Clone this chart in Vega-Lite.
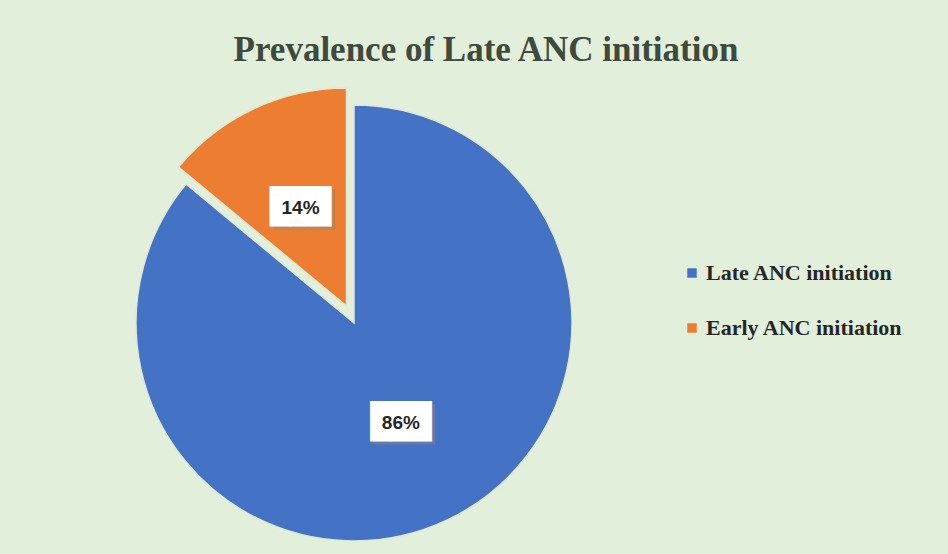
{
  "$schema": "https://vega.github.io/schema/vega-lite/v6.json",
  "autosize": "none",
  "width": 436,
  "height": 436,
  "padding": {"left": 136, "top": 105, "right": 376, "bottom": 13},
  "background": "#e2efda",
  "config": {"view": {"stroke": null}},
  "title": {
    "text": "Prevalence of Late ANC initiation",
    "font": "Liberation Serif",
    "fontSize": 35,
    "fontWeight": "bold",
    "color": "#3d4a3d",
    "anchor": "middle",
    "dx": 132,
    "offset": 17
  },
  "data": {
    "values": [
      {"category": "Late ANC initiation", "value": 86, "label": "86%"},
      {"category": "Early ANC initiation", "value": 14, "label": "14%"}
    ]
  },
  "encoding": {
    "theta": {"field": "value", "type": "quantitative", "stack": true},
    "order": {"field": "value", "type": "quantitative", "sort": "descending"}
  },
  "layer": [
    {
      "mark": {"type": "arc", "stroke": "#dfe9d6", "strokeWidth": 1.5},
      "encoding": {
        "color": {
          "field": "category",
          "type": "nominal",
          "scale": {"domain": ["Late ANC initiation", "Early ANC initiation"], "range": ["#4472c4", "#ed7d31"]},
          "legend": {
            "title": null,
            "orient": "none",
            "legendX": 545,
            "legendY": 157,
            "symbolType": "square",
            "symbolSize": 90,
            "symbolStrokeWidth": 0,
            "labelFont": "Liberation Serif",
            "labelFontWeight": "bold",
            "labelFontSize": 22,
            "labelColor": "#262626",
            "labelOffset": 3,
            "labelLimit": 0,
            "rowPadding": 33
          }
        },
        "opacity": {"condition": {"test": "datum.category === 'Late ANC initiation'", "value": 1}, "value": 0}
      }
    },
    {
      "mark": {"type": "arc", "stroke": "#e8e6cf", "strokeWidth": 1.5, "xOffset": -7.5, "yOffset": -17},
      "encoding": {
        "color": {"field": "category", "type": "nominal"},
        "opacity": {"condition": {"test": "datum.category === 'Early ANC initiation'", "value": 1}, "value": 0}
      }
    },
    {
      "mark": {"type": "text", "font": "DejaVu Sans Mono", "fontSize": 34, "color": "#8a8a8a", "radius": 110, "dx": 3, "dy": 3, "baseline": "middle"},
      "encoding": {
        "text": {"value": "███"},
        "opacity": {"condition": {"test": "datum.category === 'Late ANC initiation'", "value": 0.45}, "value": 0}
      }
    },
    {
      "mark": {"type": "text", "font": "DejaVu Sans Mono", "fontSize": 34, "color": "#ffffff", "radius": 110, "baseline": "middle"},
      "encoding": {
        "text": {"value": "███"},
        "opacity": {"condition": {"test": "datum.category === 'Late ANC initiation'", "value": 1}, "value": 0}
      }
    },
    {
      "mark": {"type": "text", "font": "Liberation Sans", "fontWeight": "bold", "fontSize": 19, "color": "#262626", "radius": 110, "baseline": "middle"},
      "encoding": {
        "text": {"field": "label", "type": "nominal"},
        "opacity": {"condition": {"test": "datum.category === 'Late ANC initiation'", "value": 1}, "value": 0}
      }
    },
    {
      "mark": {"type": "text", "font": "DejaVu Sans Mono", "fontSize": 34, "color": "#8a8a8a", "radius": 108, "dx": 3, "dy": 3, "baseline": "middle", "xOffset": -7.5, "yOffset": -17},
      "encoding": {
        "text": {"value": "███"},
        "opacity": {"condition": {"test": "datum.category === 'Early ANC initiation'", "value": 0.45}, "value": 0}
      }
    },
    {
      "mark": {"type": "text", "font": "DejaVu Sans Mono", "fontSize": 34, "color": "#ffffff", "radius": 108, "baseline": "middle", "xOffset": -7.5, "yOffset": -17},
      "encoding": {
        "text": {"value": "███"},
        "opacity": {"condition": {"test": "datum.category === 'Early ANC initiation'", "value": 1}, "value": 0}
      }
    },
    {
      "mark": {"type": "text", "font": "Liberation Sans", "fontWeight": "bold", "fontSize": 19, "color": "#262626", "radius": 108, "baseline": "middle", "xOffset": -7.5, "yOffset": -17},
      "encoding": {
        "text": {"field": "label", "type": "nominal"},
        "opacity": {"condition": {"test": "datum.category === 'Early ANC initiation'", "value": 1}, "value": 0}
      }
    }
  ]
}
